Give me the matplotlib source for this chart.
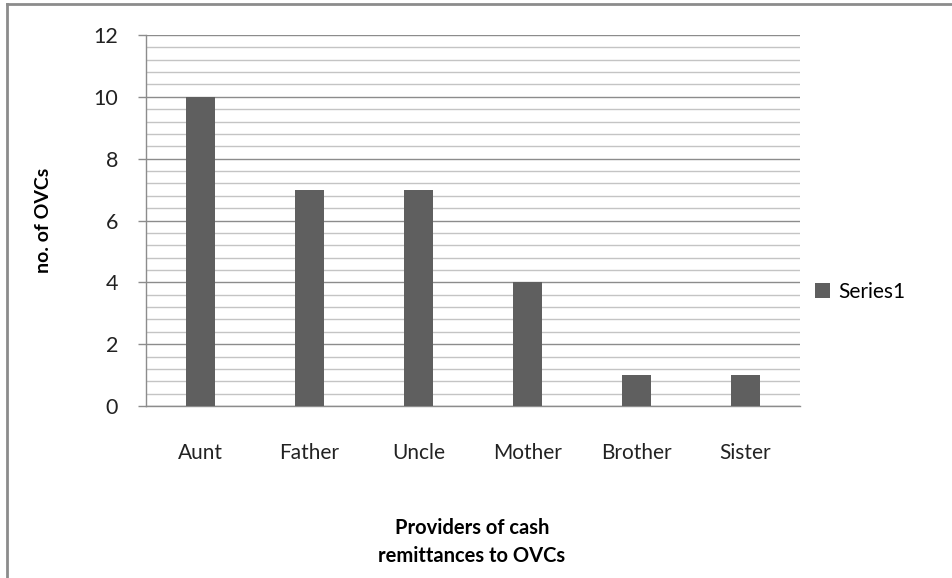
import matplotlib.pyplot as plt
import numpy as np
from matplotlib.ticker import MultipleLocator

providers = ['Aunt', 'Father', 'Uncle', 'Mother', 'Brother', 'Sister']
counts = [10, 7, 7, 4, 1, 1]
series_name = 'Series1'

plt.rcParams['font.family'] = ['Lato', 'DejaVu Sans']

fig = plt.figure(figsize=(9.53, 5.78), dpi=100)
ax = fig.add_axes([0.1532, 0.2976, 0.6863, 0.6418])

x = np.arange(len(providers))
ax.bar(x, counts, width=0.26, color='#5f5f5f', label=series_name, zorder=3)

ax.set_xlim(-0.5, len(providers) - 0.5)
ax.set_ylim(0, 12)
ax.yaxis.set_major_locator(MultipleLocator(2))
ax.yaxis.set_minor_locator(MultipleLocator(0.4))
ax.grid(axis='y', which='major', color='#8c8c8c', linewidth=1.0, zorder=0)
ax.grid(axis='y', which='minor', color='#c4c4c4', linewidth=1.0, zorder=0)

ax.set_xticks(x)
ax.set_xticklabels(providers)
ax.tick_params(axis='x', length=0, pad=27, labelsize=15, colors='#222222')
ax.tick_params(axis='y', which='major', length=6, width=1, color='#8c8c8c',
               labelsize=15.5, pad=14, labelcolor='#222222')
ax.tick_params(axis='y', which='minor', length=0)

for side in ['top', 'right']:
    ax.spines[side].set_visible(False)
for side in ['left', 'bottom']:
    ax.spines[side].set_color('#8c8c8c')
    ax.spines[side].set_linewidth(1.0)

ax.set_ylabel('no. of OVCs', fontsize=14, fontweight='bold', labelpad=30)
# x title sits low in the chart area, placed in figure coords
fig.text(0.4953, 0.0623, 'Providers of cash\nremittances to OVCs', fontsize=14.5,
         fontweight='bold', ha='center', va='center', linespacing=1.55)

fig.legend(loc='center left', bbox_to_anchor=(0.836, 0.495), frameon=False,
           fontsize=15, handlelength=0.7, handleheight=0.7, handletextpad=0.4)

# chart area border (only top and left edges visible)
fig.add_artist(plt.Line2D([0.0075, 0.0075], [0, 0.9925], transform=fig.transFigure,
                          color='#8c8c8c', linewidth=2))
fig.add_artist(plt.Line2D([0.0075, 1.0], [0.9925, 0.9925], transform=fig.transFigure,
                          color='#8c8c8c', linewidth=2))

fig.savefig('out.png', dpi=100)
